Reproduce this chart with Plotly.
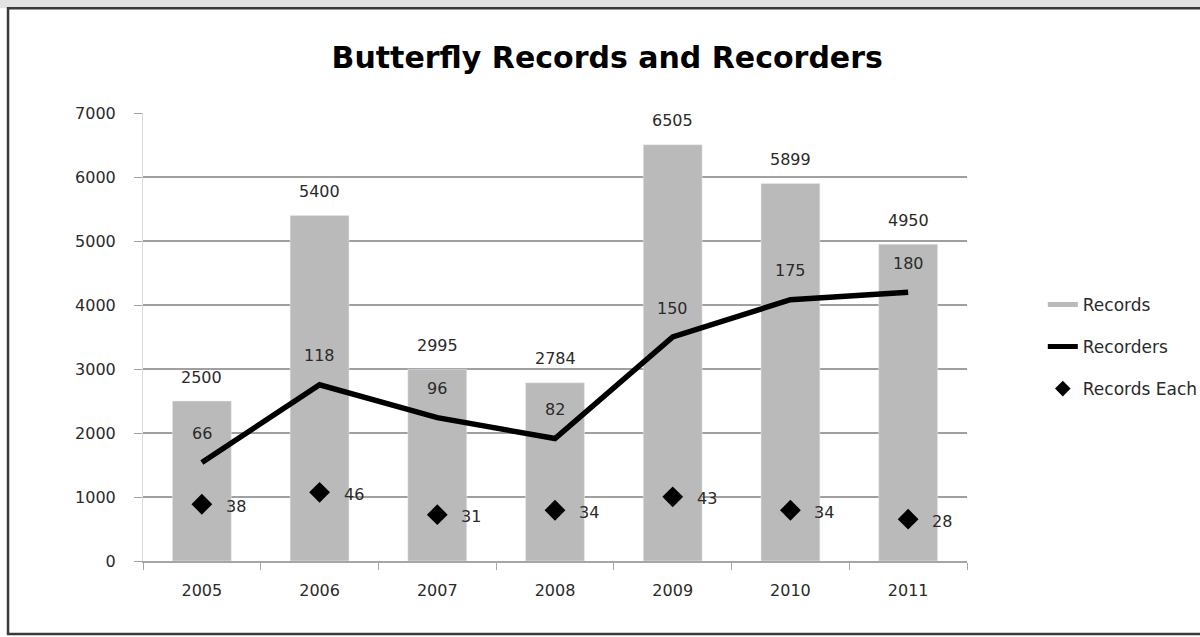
import plotly.graph_objects as go

years = ["2005", "2006", "2007", "2008", "2009", "2010", "2011"]
records = [2500, 5400, 2995, 2784, 6505, 5899, 4950]
recorders = [66, 118, 96, 82, 150, 175, 180]
records_each = [38, 46, 31, 34, 43, 34, 28]
y_ticks = [0, 1000, 2000, 3000, 4000, 5000, 6000, 7000]

FONT = "DejaVu Sans"
TXT = "#2a2a2a"
BAR = "#bababa"
pos = list(range(len(years)))

fig = go.Figure()
fig.add_trace(go.Bar(x=pos, y=records, name="Records", marker_color=BAR,
                     width=0.5, showlegend=False))
# legend entry for the bars drawn as a wide flat swatch, like the original
fig.add_trace(go.Scatter(x=[None], y=[None], name="Records", mode="lines",
                         line=dict(color=BAR, width=9), legendgroup="a"))
fig.add_trace(go.Scatter(x=pos, y=recorders, name="Recorders", mode="lines",
                         line=dict(color="black", width=5.5), yaxis="y2", legendgroup="b"))
fig.add_trace(go.Scatter(x=pos, y=records_each, name="Records Each", mode="markers",
                         marker=dict(symbol="diamond", size=16, color="black"),
                         yaxis="y2", legendgroup="c"))

ann = []
for x, v in zip(pos, records):
    ann.append(dict(x=x, y=v, xref="x", yref="y", text=str(v), showarrow=False,
                    yshift=24, font=dict(family=FONT, size=16, color=TXT)))
for x, v in zip(pos, recorders):
    ann.append(dict(x=x, y=v, xref="x", yref="y2", text=str(v), showarrow=False,
                    yshift=29, font=dict(family=FONT, size=16, color=TXT)))
for x, v in zip(pos, records_each):
    ann.append(dict(x=x, y=v, xref="x", yref="y2", text=str(v), showarrow=False,
                    xanchor="left", xshift=22, yshift=-2,
                    font=dict(family=FONT, size=16, color=TXT)))

fig.update_layout(
    width=1200, height=637,
    margin=dict(l=143, r=233, t=113, b=76, autoexpand=False),
    paper_bgcolor="white", plot_bgcolor="rgba(0,0,0,0)",
    title=dict(text="<b>Butterfly Records and Recorders</b>", x=0.506, xanchor="center",
               y=0.91, yanchor="middle", xref="container", yref="container",
               font=dict(family=FONT, size=30, color="black")),
    font=dict(family=FONT, size=16, color=TXT),
    showlegend=True,
    legend=dict(x=1.092, xanchor="left", y=0.478, yanchor="middle",
                tracegroupgap=17, itemsizing="constant",
                font=dict(family=FONT, size=17, color=TXT),
                bgcolor="rgba(0,0,0,0)"),
    xaxis=dict(range=[-0.5, len(years) - 0.5], tickmode="array", tickvals=pos,
               ticktext=years, showline=True, linecolor="#a6a6a6", linewidth=1.5,
               ticks="", showgrid=False, zeroline=False, ticklabelstandoff=14,
               minor=dict(ticks="outside", tickmode="linear", tick0=-0.5, dtick=1,
                          ticklen=7, tickcolor="#a6a6a6", showgrid=False),
               tickfont=dict(family=FONT, size=16, color=TXT)),
    yaxis=dict(range=[0, 7000], tickvals=y_ticks, showgrid=True, gridcolor="#a0a0a0",
               gridwidth=1.5, showline=True, linecolor="#d9d9d9", linewidth=1,
               ticks="outside", ticklen=8, tickcolor="#a0a0a0", zeroline=False,
               ticklabelstandoff=15,
               tickfont=dict(family=FONT, size=16, color=TXT)),
    yaxis2=dict(range=[0, 300], overlaying="y", side="right", visible=False),
    annotations=ann,
    shapes=[
        dict(type="rect", xref="paper", yref="paper", x0=-1, x1=2, y0=1.234, y1=1.5,
             fillcolor="#e3e3e3", line_width=0, layer="below"),
        dict(type="rect", xref="paper", yref="paper", x0=-0.1638, x1=1.30, y0=-0.163,
             y1=1.234, fillcolor="rgba(0,0,0,0)", line=dict(color="#3a3a3a", width=2.5)),
    ],
)

fig.write_html("out.html")
